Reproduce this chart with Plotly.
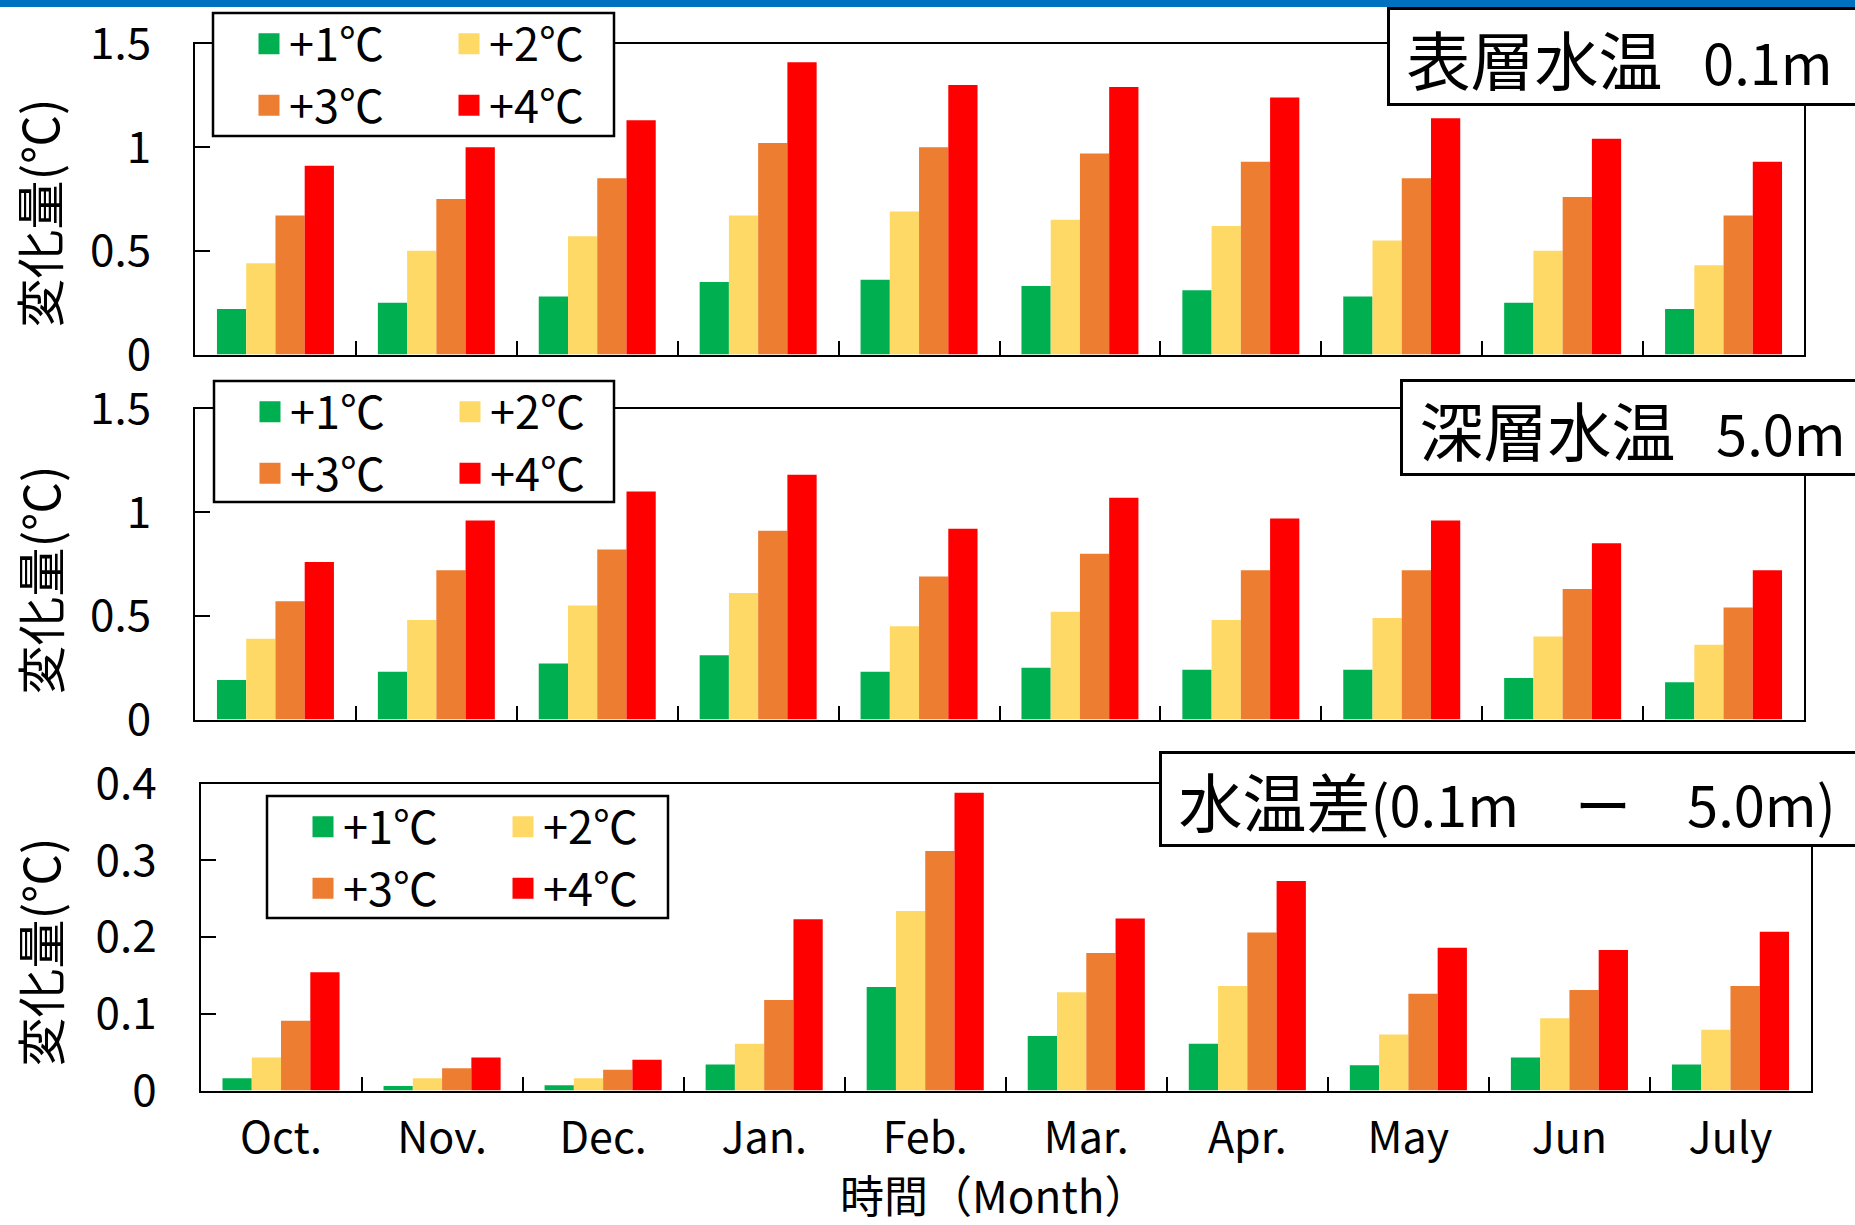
import plotly.graph_objects as go

W, H = 1855, 1225
FONT = "Noto Sans CJK JP"

months = ["Oct.", "Nov.", "Dec.", "Jan.", "Feb.", "Mar.", "Apr.", "May", "Jun", "July"]
series_names = ["+1℃", "+2℃", "+3℃", "+4℃"]
colors = ["#00B050", "#FFD966", "#ED7D31", "#FF0000"]

# 表層水温 0.1m
surface_p1 = [0.22, 0.25, 0.28, 0.35, 0.36, 0.33, 0.31, 0.28, 0.25, 0.22]
surface_p2 = [0.44, 0.50, 0.57, 0.67, 0.69, 0.65, 0.62, 0.55, 0.50, 0.43]
surface_p3 = [0.67, 0.75, 0.85, 1.02, 1.00, 0.97, 0.93, 0.85, 0.76, 0.67]
surface_p4 = [0.91, 1.00, 1.13, 1.41, 1.30, 1.29, 1.24, 1.14, 1.04, 0.93]

# 深層水温 5.0m
deep_p1 = [0.19, 0.23, 0.27, 0.31, 0.23, 0.25, 0.24, 0.24, 0.20, 0.18]
deep_p2 = [0.39, 0.48, 0.55, 0.61, 0.45, 0.52, 0.48, 0.49, 0.40, 0.36]
deep_p3 = [0.57, 0.72, 0.82, 0.91, 0.69, 0.80, 0.72, 0.72, 0.63, 0.54]
deep_p4 = [0.76, 0.96, 1.10, 1.18, 0.92, 1.07, 0.97, 0.96, 0.85, 0.72]

# 水温差 (0.1m - 5.0m)
diff_p1 = [0.016, 0.006, 0.007, 0.034, 0.135, 0.071, 0.061, 0.033, 0.043, 0.034]
diff_p2 = [0.043, 0.016, 0.016, 0.061, 0.234, 0.128, 0.136, 0.073, 0.094, 0.079]
diff_p3 = [0.091, 0.029, 0.027, 0.118, 0.312, 0.179, 0.206, 0.126, 0.131, 0.136]
diff_p4 = [0.154, 0.043, 0.040, 0.223, 0.388, 0.224, 0.273, 0.186, 0.183, 0.207]

panel_titles = [
    '\u00a0<span style="font-size:64px">表層水温</span>\u2002\u00a00.1m',
    '\u00a0<span style="font-size:64px">深層水温</span>\u2002\u00a05.0m',
    '\u00a0<span style="font-size:64px">水温差</span>(0.1m　ー　5.0m)',
]
y_title = "変化量(℃)"
x_title = "時間（Month）"

panels = [
    [surface_p1, surface_p2, surface_p3, surface_p4],
    [deep_p1, deep_p2, deep_p3, deep_p4],
    [diff_p1, diff_p2, diff_p3, diff_p4],
]


def px(v):
    return v / W


def py(v):
    return 1 - v / H


# plot areas in pixels: (left, right, top, bottom)
areas = [(195, 1804, 43.5, 354.5), (195, 1804, 408.5, 719.5), (200.5, 1811, 783.5, 1090.5)]
yranges = [[0, 1.5], [0, 1.5], [0, 0.4]]
ydticks = [0.5, 0.5, 0.1]
legend_boxes = [(213, 13, 614, 136), (214, 381, 614, 502), (267, 796, 668, 918)]
title_boxes = [(1387, 7, 99), (1400, 379, 97), (1159, 751, 96)]
ytitle_centers = [213, 580, 952]

fig = go.Figure()
legend_keys = ["legend", "legend2", "legend3"]
for pi, vals in enumerate(panels):
    ax = "" if pi == 0 else str(pi + 1)
    for si in range(4):
        fig.add_trace(go.Bar(
            x=months, y=vals[si], name=series_names[si],
            marker=dict(color=colors[si], line=dict(width=0)),
            xaxis="x" + ax, yaxis="y" + ax,
            showlegend=False,
            hoverinfo="x+y+name",
        ))
    # legend entries (square swatches) for this panel
    for si in range(4):
        fig.add_trace(go.Scatter(
            x=[None], y=[None], mode="markers", name=series_names[si],
            marker=dict(symbol="square", size=16, color=colors[si],
                        line=dict(width=5, color=colors[si])),
            xaxis="x" + ax, yaxis="y" + ax,
            legend=legend_keys[pi],
            legendgroup=f"p{pi}g{si % 2}",
            showlegend=True, hoverinfo="skip",
        ))

layout = dict(
    width=W, height=H,
    margin=dict(l=0, r=0, t=0, b=0),
    paper_bgcolor="white", plot_bgcolor="white",
    barmode="group", bargap=0.273, bargroupgap=0,
    font=dict(family=FONT, color="black"),
    showlegend=True,
)

for pi in range(3):
    l, r, t, b = areas[pi]
    ax = "" if pi == 0 else str(pi + 1)
    layout["xaxis" + ax] = dict(
        domain=[px(l), px(r)], anchor="y" + ax,
        showline=True, mirror=True, linecolor="black", linewidth=2,
        ticks="inside", tickson="boundaries", ticklen=14, tickwidth=2, tickcolor="black",
        showticklabels=(pi == 2), showgrid=False, zeroline=False,
        tickfont=dict(size=43, family=FONT, color="black"),
        ticklabelstandoff=9, automargin=False, fixedrange=True,
    )
    layout["yaxis" + ax] = dict(
        domain=[py(b), py(t)], anchor="x" + ax,
        range=yranges[pi], dtick=ydticks[pi], tick0=0,
        showline=True, mirror=True, linecolor="black", linewidth=2,
        ticks="inside", ticklen=15, tickwidth=2, tickcolor="black",
        showgrid=False, zeroline=False,
        tickfont=dict(size=44, family=FONT, color="black"),
        ticklabelstandoff=33, automargin=False, fixedrange=True,
    )
    bx0, by0, bx1, by1 = legend_boxes[pi]
    layout[legend_keys[pi]] = dict(
        x=px(bx0 + 36), y=py(by0 - 5), xanchor="left", yanchor="top",
        xref="paper", yref="paper",
        orientation="h", traceorder="grouped", tracegroupgap=0,
        entrywidth=155, itemwidth=30,
        bgcolor="rgba(0,0,0,0)", borderwidth=0,
        font=dict(size=45, family=FONT, color="black"),
    )

shapes = [dict(type="rect", xref="paper", yref="paper", x0=0, x1=1, y0=py(7), y1=1,
               fillcolor="#0070C0", line=dict(width=0), layer="above")]
for (bx0, by0, bx1, by1) in legend_boxes:
    shapes.append(dict(type="rect", xref="paper", yref="paper",
                       x0=px(bx0), x1=px(bx1), y0=py(by1), y1=py(by0),
                       fillcolor="white", line=dict(color="black", width=2.5), layer="above"))
layout["shapes"] = shapes

annotations = []
for pi in range(3):
    x0, y0, hgt = title_boxes[pi]
    annotations.append(dict(
        text=panel_titles[pi], xref="paper", yref="paper",
        x=px(x0), y=py(y0), xanchor="left", yanchor="top",
        showarrow=False, align="left", valign="middle",
        width=900, height=hgt - 6 - 8, borderpad=4, borderwidth=3,
        bordercolor="black", bgcolor="white",
        font=dict(size=56, family=FONT, color="black"),
    ))
    annotations.append(dict(
        text=y_title, xref="paper", yref="paper",
        x=px(37.5), y=py(ytitle_centers[pi]), xanchor="center", yanchor="middle",
        showarrow=False, textangle=-90,
        font=dict(size=49, family=FONT, color="black"),
    ))
annotations.append(dict(
    text=x_title, xref="paper", yref="paper",
    x=px(994), y=py(1194), xanchor="center", yanchor="middle",
    showarrow=False, font=dict(size=44, family=FONT, color="black"),
))
layout["annotations"] = annotations

fig.update_layout(**layout)
fig.write_html(
    "out.html",
    config={"displayModeBar": False},
    post_script="document.body.style.margin='0';document.body.style.overflow='hidden';",
)
